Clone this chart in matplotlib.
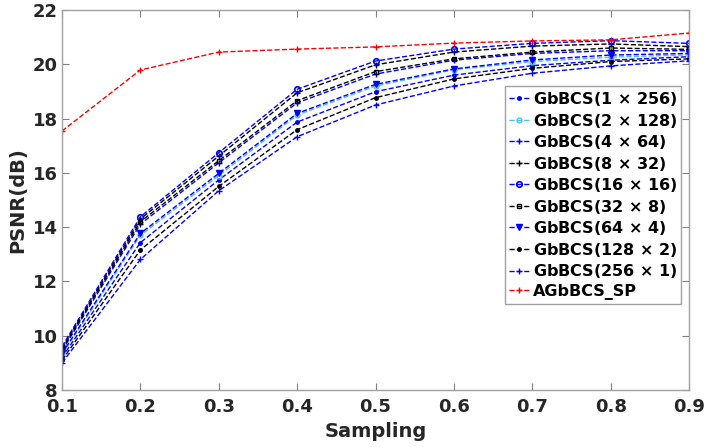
import matplotlib
matplotlib.use("Agg")
import matplotlib.pyplot as plt

sampling = [0.1, 0.2, 0.3, 0.4, 0.5, 0.6, 0.7, 0.8, 0.9]

psnr_1x256 = [9.20, 13.43, 15.74, 17.87, 18.99, 19.60, 19.95, 20.15, 20.28]
psnr_2x128 = [9.30, 13.70, 15.90, 18.13, 19.20, 19.80, 20.10, 20.26, 20.35]
psnr_4x64 = [9.45, 14.11, 16.37, 18.58, 19.64, 20.15, 20.40, 20.50, 20.50]
psnr_8x32 = [9.55, 14.30, 16.62, 18.95, 19.98, 20.45, 20.67, 20.75, 20.65]
psnr_16x16 = [9.60, 14.38, 16.74, 19.08, 20.12, 20.56, 20.77, 20.87, 20.77]
psnr_32x8 = [9.50, 14.20, 16.45, 18.66, 19.73, 20.20, 20.45, 20.60, 20.55]
psnr_64x4 = [9.35, 13.77, 15.98, 18.19, 19.26, 19.83, 20.16, 20.34, 20.40]
psnr_128x2 = [9.10, 13.16, 15.50, 17.59, 18.77, 19.46, 19.85, 20.10, 20.20]
psnr_256x1 = [9.00, 12.81, 15.34, 17.33, 18.50, 19.20, 19.67, 19.94, 20.13]
psnr_sp = [17.54, 19.79, 20.45, 20.56, 20.64, 20.78, 20.86, 20.90, 21.15]

labels = [
    r"GbBCS(1 $\times$ 256)",
    r"GbBCS(2 $\times$ 128)",
    r"GbBCS(4 $\times$ 64)",
    r"GbBCS(8 $\times$ 32)",
    r"GbBCS(16 $\times$ 16)",
    r"GbBCS(32 $\times$ 8)",
    r"GbBCS(64 $\times$ 4)",
    r"GbBCS(128 $\times$ 2)",
    r"GbBCS(256 $\times$ 1)",
    "AGbBCS_SP",
]
series = [psnr_1x256, psnr_2x128, psnr_4x64, psnr_8x32, psnr_16x16,
          psnr_32x8, psnr_64x4, psnr_128x2, psnr_256x1, psnr_sp]

blue = "#0000ff"
light = "#4dbeee"
styles = [
    dict(color=blue, marker=".", ms=5, mfc=blue),
    dict(color=light, marker="o", ms=3.5, mfc="none"),
    dict(color=blue, marker="+", ms=4),
    dict(color="black", marker="+", ms=4),
    dict(color=blue, marker="o", ms=4, mfc="none", mew=1.2),
    dict(color="black", marker="s", ms=3.5, mfc="none"),
    dict(color=blue, marker="v", ms=4, mfc=blue),
    dict(color="black", marker=".", ms=5),
    dict(color=blue, marker="+", ms=4),
    dict(color="red", marker="+", ms=4),
]

plt.rcParams["font.family"] = "DejaVu Sans"
plt.rcParams["font.weight"] = "bold"
plt.rcParams["mathtext.default"] = "regular"

fig = plt.figure(figsize=(7.05, 4.47), dpi=100)
ax = fig.add_axes([62 / 705, 1 - 390 / 447, 627 / 705, 380 / 447])

for vals, lab, st in zip(series, labels, styles):
    ax.plot(sampling, vals, linestyle="--", linewidth=1.0, label=lab, **st)

text_c = "#262626"
ax.set_xlim(0.1, 0.9)
ax.set_ylim(8, 22)
ax.set_xticks(sampling)
ax.set_xticklabels([f"{v:.1f}" for v in sampling])
ax.set_yticks(range(8, 23, 2))
ax.tick_params(direction="in", length=5, color="#808080", labelsize=13,
               labelcolor=text_c, top=True, right=True, pad=3)
ax.tick_params(axis="x", pad=6)
for lab in ax.get_xticklabels() + ax.get_yticklabels():
    lab.set_fontweight("bold")
for sp in ax.spines.values():
    sp.set_color("#a0a0a0")
    sp.set_linewidth(1.0)

ax.set_xlabel("Sampling", fontsize=14, fontweight="bold", color=text_c, labelpad=4)
ax.set_ylabel("PSNR(dB)", fontsize=14, fontweight="bold", color=text_c, labelpad=4)

leg = ax.legend(loc="upper right", bbox_to_anchor=(681 / 705, 1 - 86 / 447),
                bbox_transform=fig.transFigure,
                prop={"weight": "bold", "size": 11.5}, handlelength=1.3,
                handletextpad=0.2, borderpad=0.25, labelspacing=0.22,
                borderaxespad=0, fancybox=False, framealpha=1)
leg.get_frame().set_edgecolor("#a0a0a0")
leg.get_frame().set_linewidth(1.0)

fig.savefig("out.png", dpi=100)
